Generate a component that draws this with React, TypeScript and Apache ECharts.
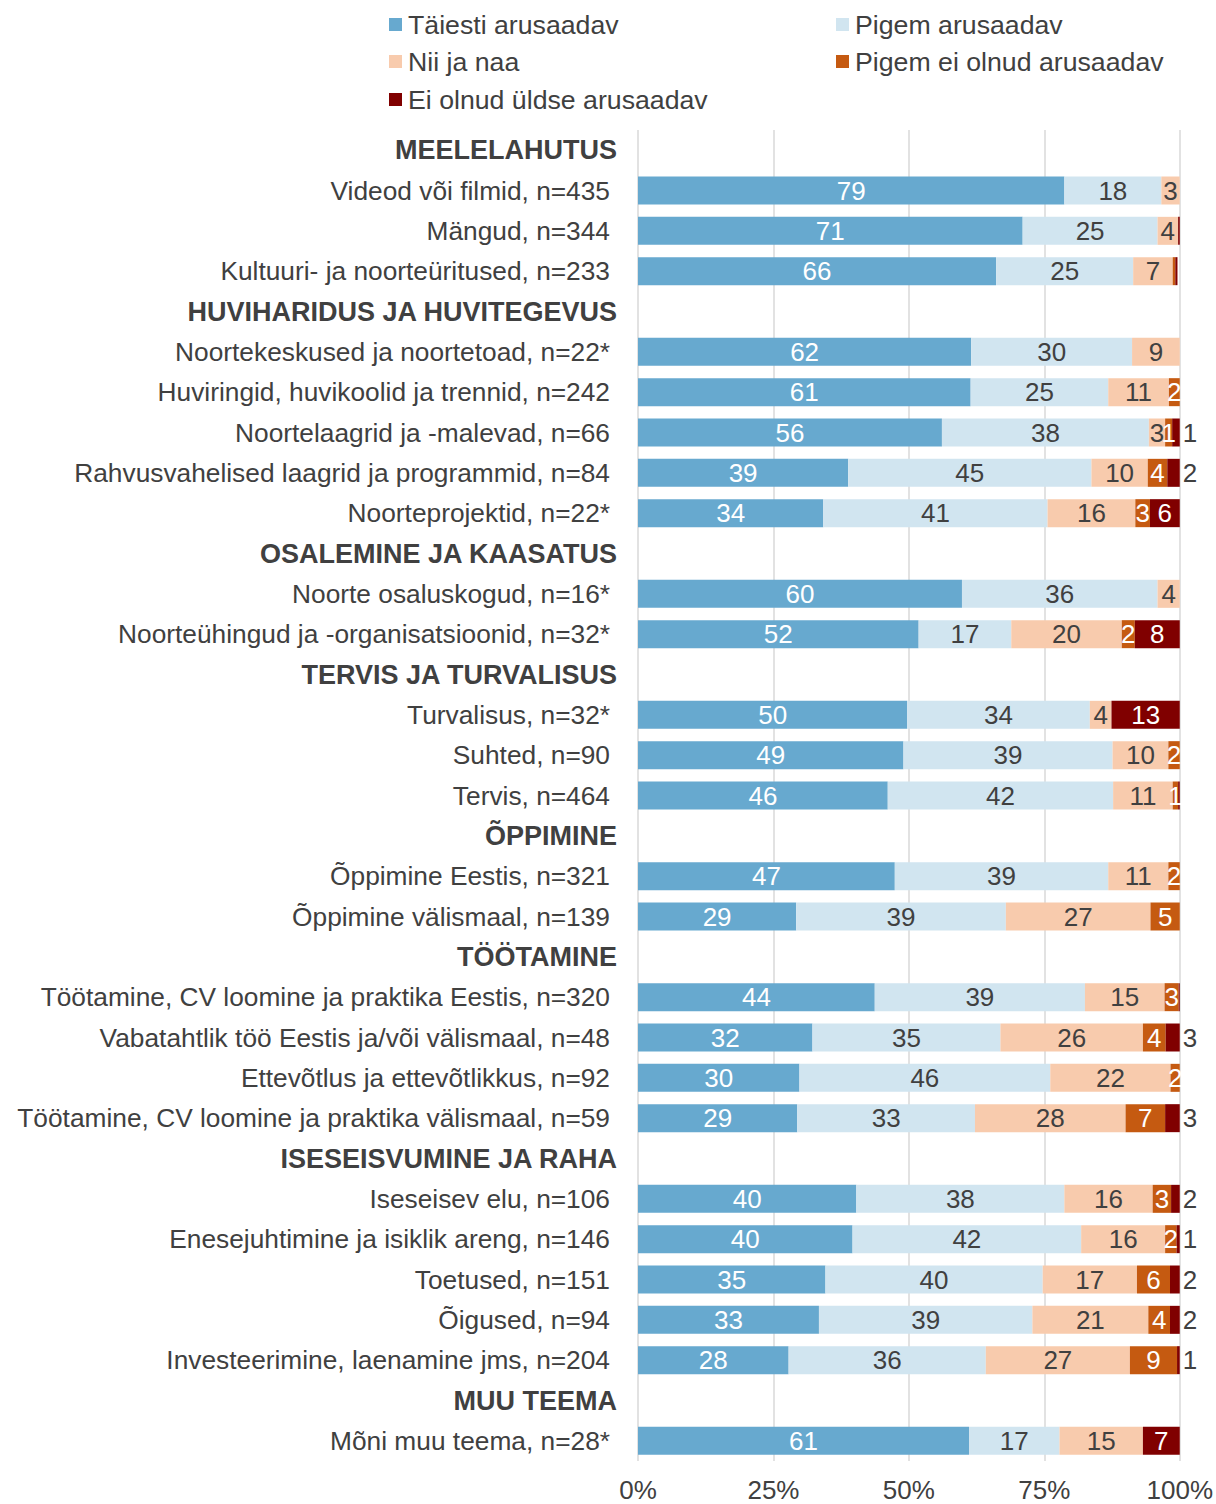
import React, { useEffect, useRef } from "react";
import * as echarts from "echarts";

const categories = [
  "MEELELAHUTUS",
  "Videod või filmid, n=435",
  "Mängud, n=344",
  "Kultuuri- ja noorteüritused, n=233",
  "HUVIHARIDUS JA HUVITEGEVUS",
  "Noortekeskused ja noortetoad, n=22*",
  "Huviringid, huvikoolid ja trennid, n=242",
  "Noortelaagrid ja -malevad, n=66",
  "Rahvusvahelised laagrid ja programmid, n=84",
  "Noorteprojektid, n=22*",
  "OSALEMINE JA KAASATUS",
  "Noorte osaluskogud, n=16*",
  "Noorteühingud ja -organisatsioonid, n=32*",
  "TERVIS JA TURVALISUS",
  "Turvalisus, n=32*",
  "Suhted, n=90",
  "Tervis, n=464",
  "ÕPPIMINE",
  "Õppimine Eestis, n=321",
  "Õppimine välismaal, n=139",
  "TÖÖTAMINE",
  "Töötamine, CV loomine ja praktika Eestis, n=320",
  "Vabatahtlik töö Eestis ja/või välismaal, n=48",
  "Ettevõtlus ja ettevõtlikkus, n=92",
  "Töötamine, CV loomine ja praktika välismaal, n=59",
  "ISESEISVUMINE JA RAHA",
  "Iseseisev elu, n=106",
  "Enesejuhtimine ja isiklik areng, n=146",
  "Toetused, n=151",
  "Õigused, n=94",
  "Investeerimine, laenamine jms, n=204",
  "MUU TEEMA",
  "Mõni muu teema, n=28*",
];

const headers = [
  "MEELELAHUTUS",
  "HUVIHARIDUS JA HUVITEGEVUS",
  "OSALEMINE JA KAASATUS",
  "TERVIS JA TURVALISUS",
  "ÕPPIMINE",
  "TÖÖTAMINE",
  "ISESEISVUMINE JA RAHA",
  "MUU TEEMA",
];

const seriesNames = [
  "Täiesti arusaadav",
  "Pigem arusaadav",
  "Nii ja naa",
  "Pigem ei olnud arusaadav",
  "Ei olnud üldse arusaadav",
];

const taiesti = [null, 78.7, 71.0, 66.1, null, 61.5, 61.4, 56.1, 38.8, 34.2, null, 59.8, 51.8, null, 49.7, 49.0, 46.1, null, 47.4, 29.2, null, 43.7, 32.2, 29.8, 29.4, null, 40.3, 39.6, 34.6, 33.4, 27.8, null, 61.1];
const pigem = [null, 17.9, 24.9, 25.3, null, 29.7, 25.4, 38.2, 44.9, 41.4, null, 36.1, 17.1, null, 33.7, 38.6, 41.6, null, 39.4, 38.7, null, 38.8, 34.7, 46.3, 32.8, null, 38.4, 42.2, 40.1, 39.4, 36.4, null, 16.7];
const niiJaNaa = [null, 3.4, 3.8, 7.3, null, 8.8, 11.2, 3.0, 10.4, 16.2, null, 4.1, 20.4, null, 4.0, 10.3, 11.0, null, 11.1, 26.7, null, 14.7, 26.3, 22.2, 27.8, null, 16.3, 15.5, 17.4, 21.4, 26.6, null, 15.4];
const pigemEi = [null, 0, 0, 0.48, null, 0, 2.0, 1.3, 3.6, 2.7, null, 0, 2.4, null, 0, 2.1, 1.0, null, 2.1, 5.4, null, 2.6, 4.2, 1.7, 7.3, null, 3.4, 2.1, 6.1, 4.0, 8.7, null, 0];
const eiUldse = [null, 0, 0.3, 0.4, null, 0, 0, 1.4, 2.3, 5.5, null, 0, 8.3, null, 12.6, 0, 0.3, null, 0, 0, null, 0.2, 2.6, 0, 2.7, null, 1.6, 0.6, 1.8, 1.8, 0.5, null, 6.8];

const colors = ["#67A9CF", "#D1E5F0", "#F8CBAD", "#C55A11", "#800000"];
const labelColors = ["#FFFFFF", "#404040", "#404040", "#FFFFFF", "#FFFFFF"];

const FONT = "'Liberation Sans', Arial, sans-serif";
const FS = 26;
const TXT = "#404040";

export default function App() {
  const ref = useRef<HTMLDivElement>(null);

  useEffect(() => {
    document.body.style.margin = "0";
    if (!ref.current) return;
    const chart = echarts.init(ref.current, undefined, { renderer: "svg" });

    const allData = [taiesti, pigem, niiJaNaa, pigemEi, eiUldse];

    const series = allData.map((arr, si) => ({
      name: seriesNames[si],
      type: "bar",
      stack: "total",
      barWidth: 28,
      itemStyle: { color: colors[si] },
      label: {
        show: true,
        position: "inside",
        color: labelColors[si],
        fontFamily: FONT,
        fontSize: FS,
        formatter: (p: any) => {
          const v = p.value;
          if (v == null || v < 0.5) return "";
          return String(Math.round(v));
        },
      },
      data: arr.map((v) => {
        if (si === 4 && v != null && v >= 0.5 && v < 4) {
          return {
            value: v,
            label: { position: "right", distance: 3, color: TXT },
          };
        }
        return v;
      }),
    }));

    const legendPos = [
      { left: 389, cy: 25 },
      { left: 836, cy: 25 },
      { left: 389, cy: 62 },
      { left: 836, cy: 62 },
      { left: 389, cy: 100 },
    ];

    const legends = seriesNames.map((n, i) => ({
      data: [n],
      left: legendPos[i].left,
      top: legendPos[i].cy - 14,
      padding: 0,
      icon: "rect",
      itemWidth: 13,
      itemHeight: 13,
      selectedMode: false,
      textStyle: {
        color: TXT,
        fontFamily: FONT,
        fontSize: 26.7,
        lineHeight: 26,
        padding: [0, 0, 0, 1],
      },
    }));

    chart.setOption({
      animation: false,
      legend: legends,
      grid: { left: 638, right: 36, top: 130, bottom: 43, containLabel: false },
      xAxis: {
        type: "value",
        min: 0,
        max: 100,
        interval: 25,
        axisLine: { show: false },
        axisTick: { show: false },
        splitLine: { show: true, lineStyle: { color: "#D9D9D9", width: 1.5 } },
        axisLabel: {
          formatter: "{value}%",
          color: TXT,
          fontFamily: FONT,
          fontSize: FS,
          lineHeight: 26,
          margin: 16,
        },
      },
      yAxis: {
        type: "category",
        inverse: true,
        data: categories,
        axisLine: { show: false },
        axisTick: { show: false },
        axisLabel: {
          margin: 28,
          interval: 0,
          formatter: (v: string) => (headers.includes(v) ? `{h|${v}}` : `{n|${v}}`),
          rich: {
            h: { color: TXT, fontFamily: FONT, fontSize: 27, fontWeight: "bold", align: "right", padding: [0, -7, 0, 0] },
            n: { color: TXT, fontFamily: FONT, fontSize: 26.3, align: "right" },
          },
        },
      },
      series,
    });

    return () => chart.dispose();
  }, []);

  return <div ref={ref} style={{ width: 1216, height: 1504 }} />;
}
